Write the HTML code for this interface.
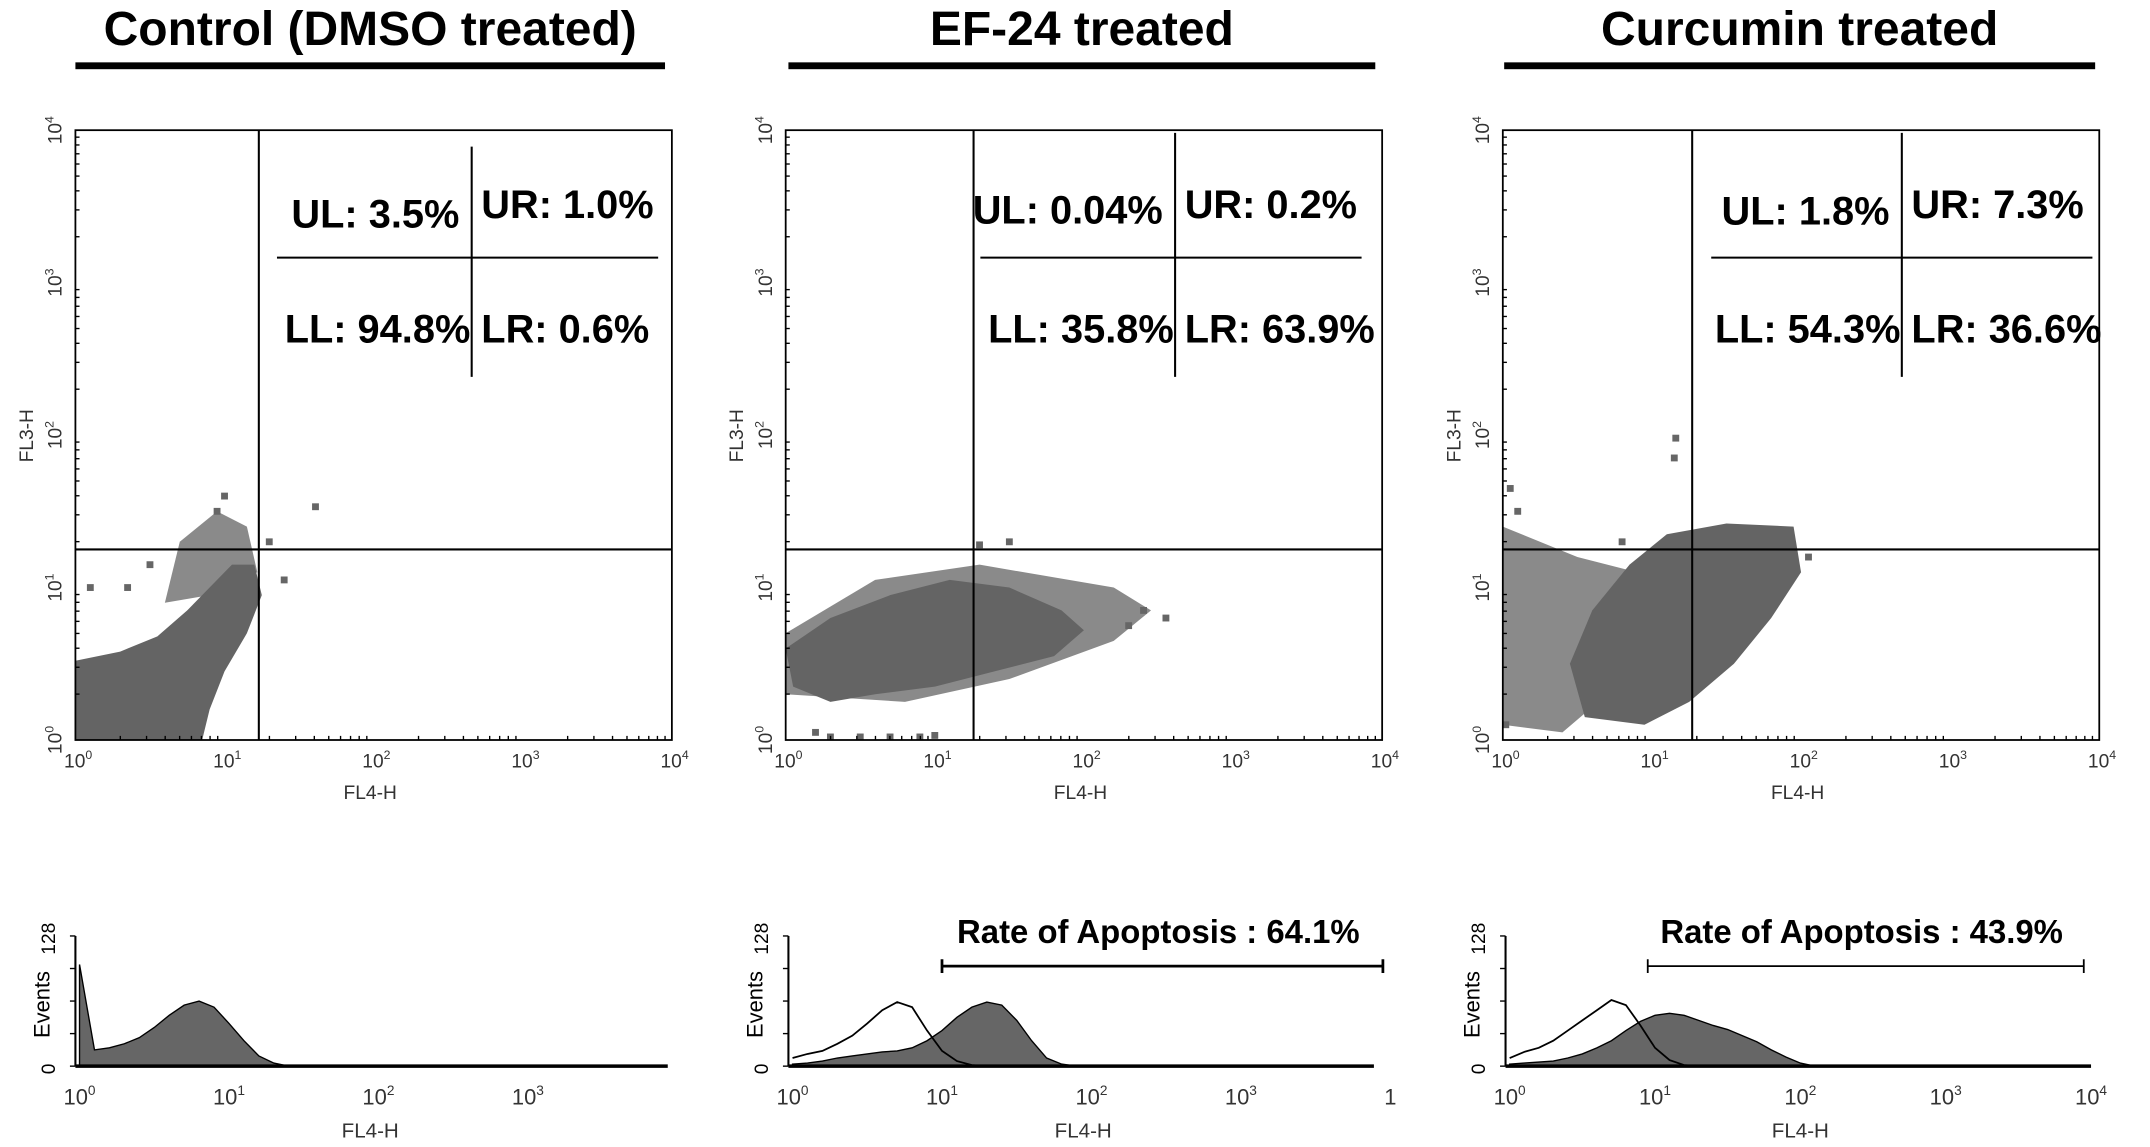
<!DOCTYPE html>
<html><head><meta charset="utf-8"><style>
html,body{margin:0;padding:0;background:#fff}
svg{display:block}
text{font-family:"Liberation Sans",Arial,sans-serif}
</style></head><body>
<svg id="fig" width="2150" height="1147" viewBox="0 0 1568 837" preserveAspectRatio="none" xmlns="http://www.w3.org/2000/svg"></svg>
<script>
// ---- data (log10 units) ----
const panelTitles = ["Control (DMSO treated)", "EF-24 treated", "Curcumin treated"];
const quadUL = ["UL: 3.5%", "UL: 0.04%", "UL: 1.8%"];
const quadUR = ["UR: 1.0%", "UR: 0.2%", "UR: 7.3%"];
const quadLL = ["LL: 94.8%", "LL: 35.8%", "LL: 54.3%"];
const quadLR = ["LR: 0.6%", "LR: 63.9%", "LR: 36.6%"];
const gateX = [1.23, 1.26, 1.27];
const gateY = [1.25, 1.25, 1.25];
const decadeLabels = ["0","1","2","3","4"];
const blobDense = [
 [[0,0],[0,0.52],[0.3,0.58],[0.55,0.68],[0.75,0.85],[0.9,1.0],[1.05,1.15],[1.2,1.15],[1.25,0.95],[1.15,0.7],[1.0,0.45],[0.9,0.2],[0.85,0]],
 [[0.05,0.35],[0.0,0.6],[0.3,0.8],[0.7,0.95],[1.1,1.05],[1.5,1.0],[1.85,0.85],[2.0,0.72],[1.8,0.55],[1.4,0.45],[1.0,0.35],[0.6,0.3],[0.3,0.25]],
 [[0.55,0.15],[0.45,0.5],[0.6,0.85],[0.85,1.15],[1.1,1.35],[1.5,1.42],[1.95,1.4],[2.0,1.1],[1.8,0.8],[1.55,0.5],[1.25,0.25],[0.95,0.1]]
];
const blobSparse = [
 [[0.6,0.9],[0.7,1.3],[0.95,1.5],[1.15,1.4],[1.22,1.1],[0.9,0.95]],
 [[0.0,0.3],[0.0,0.7],[0.6,1.05],[1.3,1.15],[2.2,1.0],[2.45,0.85],[2.2,0.65],[1.5,0.4],[0.8,0.25]],
 [[0,0.1],[0,1.4],[0.5,1.2],[0.9,1.1],[0.7,0.3],[0.4,0.05]]
];
const outliers = [
 [[1.61,1.53],[1.3,1.3],[0.35,1.0],[0.1,1.0],[1.0,1.6],[0.95,1.5],[1.4,1.05],[0.5,1.15]],
 [[1.5,1.3],[2.4,0.85],[2.3,0.75],[1.3,1.28],[0.2,0.05],[0.5,0.02],[0.9,0.02],[0.3,0.02],[0.7,0.02],[1.0,0.03],[2.55,0.8]],
 [[1.16,1.98],[0.05,1.65],[1.15,1.85],[0.02,0.1],[2.05,1.2],[0.1,1.5],[0.8,1.3]]
];
const histBins = [0,0.1,0.2,0.3,0.4,0.5,0.6,0.7,0.8,0.9,1.0,1.1,1.2,1.3,1.4,1.5,1.6,1.7,1.8,1.9,2.0,2.1,2.2];
const histFilled = [
 [100,16,18,22,28,38,50,60,64,58,42,25,10,3,0,0,0,0,0,0,0,0,0],
 [2,3,5,8,10,12,14,15,18,25,35,48,58,63,60,45,25,8,2,0,0,0,0],
 [2,3,4,5,8,12,18,25,35,44,50,52,50,45,40,36,30,24,16,9,3,0,0]
];
const histOpen = [
 null,
 [8,12,15,22,30,42,55,63,58,35,15,5,1,0,0,0,0,0,0,0,0,0,0],
 [8,14,18,25,35,45,55,65,60,40,18,6,1,0,0,0,0,0,0,0,0,0,0]
];
const rateLabels = [null, "Rate of Apoptosis : 64.1%", "Rate of Apoptosis : 43.9%"];
const rateGateStart = [null, 1.0, 0.95];
const rateGateEnd = [null, 3.95, 3.95];

// ---- layout ----
const NS="http://www.w3.org/2000/svg";
const svg=document.getElementById('fig');
function el(tag,attrs,parent,txt){const e=document.createElementNS(NS,tag);for(const k in attrs)e.setAttribute(k,attrs[k]);if(txt!=null)e.textContent=txt;(parent||svg).appendChild(e);return e;}
const panelX=[55,573,1096], barX=[[55,485],[575,1003],[1097,1528]];
const PW=435, SY0=540, SY1=95, dec=108.75, ydec=111.25;
const HY0=778, HY1=683;
const histDec=[109,109,106];
const histX0=[58,578,1101];
const histW=[432,427,427];
for(let p=0;p<3;p++){
  const x0=panelX[p];
  const g=el('g',{});
  
  
  const sx=v=>x0+v*dec, sy=v=>SY0-v*ydec;
  const t=el('text',{x:(barX[p][0]+barX[p][1])/2,y:33,'text-anchor':'middle','font-size':35,'font-weight':'bold'},g,panelTitles[p]);
  
  const b=el('rect',{x:barX[p][0],y:45.5,width:barX[p][1]-barX[p][0],height:5,fill:'#000'},g);
  
  const d=el('polygon',{points:blobSparse[p].map(q=>sx(q[0])+','+sy(q[1])).join(' '),fill:'#8a8a8a'},g);
  
  const d2=el('polygon',{points:blobDense[p].map(q=>sx(q[0])+','+sy(q[1])).join(' '),fill:'#646464'},g);
  
  outliers[p].forEach(q=>{const r=el('rect',{x:sx(q[0])-2.5,y:sy(q[1])-2.5,width:5,height:5,fill:'#666'},g);
    });
  const bx=el('rect',{x:x0,y:SY1,width:PW,height:SY0-SY1,fill:'none',stroke:'#000','stroke-width':1.3},g);
  
  for(let i=0;i<=4;i++){
    const lx=el('text',{x:sx(i)+2,y:560,'text-anchor':'middle','font-size':14,fill:'#333'},g,'10');
    el('tspan',{dy:-6,'font-size':9},lx,decadeLabels[i]);
    
    if(i<4){for(let k=2;k<10;k++){el('line',{x1:sx(i+Math.log10(k)),x2:sx(i+Math.log10(k)),y1:SY0,y2:SY0-3,stroke:'#000'},g);
      el('line',{x1:x0,x2:x0+3,y1:sy(i+Math.log10(k)),y2:sy(i+Math.log10(k)),stroke:'#000'},g);}}
    const ly=el('text',{transform:`translate(${x0-10},${sy(i)}) rotate(-90)`,'text-anchor':'middle','font-size':14,fill:'#333'},g,'10');
    el('tspan',{dy:-6,'font-size':9},ly,decadeLabels[i]);
    
  }
  const xt=el('text',{x:x0+215,y:583,'text-anchor':'middle','font-size':14,fill:'#333'},g,'FL4-H');
  
  const yt=el('text',{transform:`translate(${x0-31},318) rotate(-90)`,'text-anchor':'middle','font-size':14,fill:'#333'},g,'FL3-H');
  
  const gv=el('line',{x1:sx(gateX[p]),x2:sx(gateX[p]),y1:SY1,y2:SY0,stroke:'#000','stroke-width':1.5},g);
  
  const gh=el('line',{x1:x0,x2:x0+PW,y1:sy(gateY[p]),y2:sy(gateY[p]),stroke:'#000','stroke-width':1.5},g);
  
  const qx=[147,142,152][p], qv=[289,284,291][p];
  el('line',{x1:x0+qx,x2:x0+qx+278,y1:188,y2:188,stroke:'#000','stroke-width':1.5},g);
  el('line',{x1:x0+qv,x2:x0+qv,y1:[107,97,97][p],y2:275,stroke:'#000','stroke-width':1.5},g);
  const fs=29;
  [[quadUL[p],x0+qv-9,[166,163,164][p]],[quadUR[p],x0+qv+7,159],[quadLL[p],x0+qv-1,250],[quadLR[p],x0+qv+7,250]].forEach((q,i)=>{
    const tt=el('text',{x:q[1],y:q[2],'text-anchor':(i%2==0?'end':'start'),'font-size':fs,'font-weight':'bold'},g,q[0]);
    
  });
  const hx0=histX0[p], hd=histDec[p];
  const hx=v=>hx0+v*hd, hy=v=>HY0-v*(HY0-HY1)/128;
  let pts=[hx(histBins[0])+','+HY0];
  histBins.forEach((b,i)=>{pts.push(hx(b)+','+hy(histFilled[p][i]));});
  pts.push(hx(histBins[histBins.length-1])+','+HY0);
  const hf=el('polygon',{points:pts.join(' '),fill:'#666',stroke:'#000','stroke-width':1},g);
  
  if(histOpen[p]){
    const op=el('polyline',{points:histBins.map((b,i)=>hx(b)+','+hy(histOpen[p][i])).join(' '),fill:'none',stroke:'#000','stroke-width':1.3},g);
    
  }
  el('line',{x1:hx0-3,x2:hx0-3,y1:HY1,y2:HY0,stroke:'#000','stroke-width':1.5},g);
  el('line',{x1:hx0-3,x2:hx0-3+histW[p],y1:HY0,y2:HY0,stroke:'#000','stroke-width':2.5},g);
  [0,32,64,96,128].forEach(v=>el('line',{x1:hx0-7,x2:hx0-3,y1:hy(v),y2:hy(v),stroke:'#000'},g));
  const nd=p==0?3:4;
  for(let i=0;i<=nd;i++){
    const lx=el('text',{x:hx(i),y:806,'text-anchor':'middle','font-size':16,fill:'#333'},g,(p==1&&i==4)?'1':'10');
    if(!(p==1&&i==4)) el('tspan',{dy:-7,'font-size':10},lx,decadeLabels[i]);
    
  }
  el('text',{transform:`translate(${hx0-18},${HY0+2}) rotate(-90)`,'text-anchor':'middle','font-size':14},g,'0');
  el('text',{transform:`translate(${hx0-18},${HY1+2}) rotate(-90)`,'text-anchor':'middle','font-size':14},g,'128');
  const ev=el('text',{transform:`translate(${hx0-22},733) rotate(-90)`,'text-anchor':'middle','font-size':16},g,'Events');
  
  const fx=el('text',{x:hx0+212,y:830,'text-anchor':'middle','font-size':15,fill:'#333'},g,'FL4-H');
  
  if(rateLabels[p]){
    const rl=el('text',{x:(hx(rateGateStart[p])+hx(rateGateEnd[p]))/2-3,y:688,'text-anchor':'middle','font-size':24,'font-weight':'bold'},g,rateLabels[p]);
    
    const a=hx(rateGateStart[p]), c=hx(rateGateEnd[p]);
    const br=el('path',{d:`M${a},700 V710 M${a},705 H${c} M${c},700 V710`,stroke:'#000','stroke-width':p==1?2:1.3,fill:'none'},g);
    
  }
}
</script>
</body></html>
